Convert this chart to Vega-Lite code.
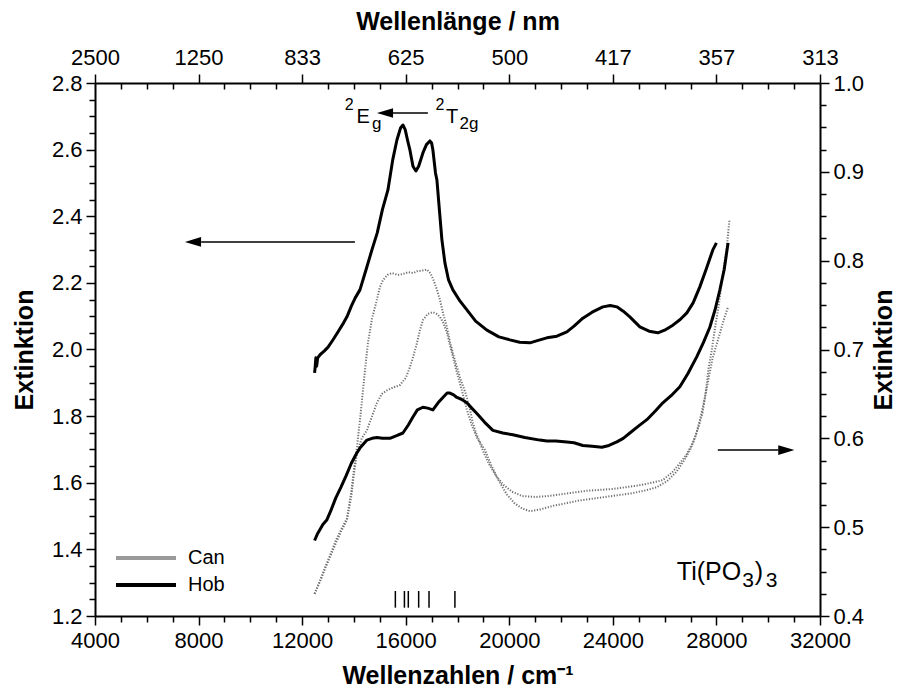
{
  "$schema": "https://vega.github.io/schema/vega-lite/v6.json",
  "width": 725,
  "height": 533,
  "autosize": {"type": "none"},
  "padding": {"left": 95, "top": 83, "right": 84, "bottom": 84},
  "background": "white",
  "config": {
    "view": {"stroke": null},
    "font": "Liberation Sans",
    "axis": {
      "domainColor": "black", "domainWidth": 2, "tickColor": "black", "tickWidth": 1.5,
      "labelColor": "black", "titleColor": "black", "labelFont": "Liberation Sans", "titleFont": "Liberation Sans",
      "labelFontSize": 22, "titleFontSize": 25, "titleFontWeight": "bold", "grid": false,
      "labelOverlap": false, "labelFlush": false
    },
    "legend": {"labelFont": "Liberation Sans", "labelFontSize": 20, "labelColor": "black"}
  },
  "datasets": {
    "hobTop": [
      {"wn":12480,"e":1.93},{"wn":12500,"e":1.945},{"wn":12530,"e":1.975},{"wn":12560,"e":1.95},{"wn":12600,"e":1.975},
      {"wn":12700,"e":1.985},{"wn":12850,"e":1.995},{"wn":13000,"e":2.007},{"wn":13200,"e":2.03},{"wn":13400,"e":2.055},
      {"wn":13600,"e":2.08},{"wn":13730,"e":2.098},{"wn":13900,"e":2.13},{"wn":14050,"e":2.155},{"wn":14232,"e":2.179},
      {"wn":14450,"e":2.235},{"wn":14695,"e":2.299},{"wn":14900,"e":2.35},{"wn":15100,"e":2.42},{"wn":15313,"e":2.479},
      {"wn":15500,"e":2.57},{"wn":15660,"e":2.629},{"wn":15800,"e":2.665},{"wn":15892,"e":2.674},{"wn":15980,"e":2.66},
      {"wn":16080,"e":2.625},{"wn":16162,"e":2.599},{"wn":16280,"e":2.55},{"wn":16394,"e":2.536},{"wn":16500,"e":2.55},
      {"wn":16664,"e":2.59},{"wn":16800,"e":2.615},{"wn":16934,"e":2.626},{"wn":17000,"e":2.62},{"wn":17050,"e":2.599},
      {"wn":17150,"e":2.53},{"wn":17205,"e":2.509},{"wn":17300,"e":2.42},{"wn":17397,"e":2.33},{"wn":17514,"e":2.26},
      {"wn":17650,"e":2.21},{"wn":17822,"e":2.179},{"wn":18100,"e":2.145},{"wn":18363,"e":2.119},{"wn":18700,"e":2.085},
      {"wn":19135,"e":2.058},{"wn":19600,"e":2.038},{"wn":20023,"e":2.029},{"wn":20400,"e":2.022},{"wn":20795,"e":2.02},
      {"wn":21181,"e":2.029},{"wn":21452,"e":2.035},{"wn":21838,"e":2.04},{"wn":22224,"e":2.053},{"wn":22500,"e":2.07},
      {"wn":22842,"e":2.094},{"wn":23200,"e":2.112},{"wn":23614,"e":2.128},{"wn":23900,"e":2.132},{"wn":24154,"e":2.128},
      {"wn":24400,"e":2.115},{"wn":24656,"e":2.098},{"wn":25042,"e":2.068},{"wn":25400,"e":2.055},{"wn":25737,"e":2.05},
      {"wn":26000,"e":2.058},{"wn":26317,"e":2.073},{"wn":26600,"e":2.09},{"wn":26857,"e":2.11},{"wn":27100,"e":2.14},
      {"wn":27359,"e":2.188},{"wn":27600,"e":2.24},{"wn":27861,"e":2.299},{"wn":28000,"e":2.32}
    ],
    "hobLow": [
      {"wn":12480,"e":0.485},{"wn":12600,"e":0.493},{"wn":12800,"e":0.503},{"wn":12950,"e":0.508},{"wn":13100,"e":0.518},
      {"wn":13300,"e":0.533},{"wn":13500,"e":0.545},{"wn":13700,"e":0.558},{"wn":13900,"e":0.572},{"wn":14100,"e":0.583},
      {"wn":14232,"e":0.589},{"wn":14502,"e":0.598},{"wn":14700,"e":0.6},{"wn":14888,"e":0.601},{"wn":15100,"e":0.6},
      {"wn":15390,"e":0.6},{"wn":15650,"e":0.603},{"wn":15892,"e":0.606},{"wn":16100,"e":0.615},{"wn":16278,"e":0.624},
      {"wn":16450,"e":0.632},{"wn":16664,"e":0.635},{"wn":16850,"e":0.634},{"wn":17050,"e":0.632},{"wn":17250,"e":0.64},
      {"wn":17436,"e":0.646},{"wn":17600,"e":0.651},{"wn":17707,"e":0.651},{"wn":17850,"e":0.649},{"wn":17977,"e":0.646},
      {"wn":18150,"e":0.644},{"wn":18363,"e":0.64},{"wn":18550,"e":0.634},{"wn":18749,"e":0.628},{"wn":19050,"e":0.618},
      {"wn":19367,"e":0.609},{"wn":19750,"e":0.606},{"wn":20139,"e":0.604},{"wn":20600,"e":0.601},{"wn":21181,"e":0.598},
      {"wn":21452,"e":0.597},{"wn":21800,"e":0.597},{"wn":22224,"e":0.596},{"wn":22500,"e":0.595},{"wn":22842,"e":0.592},
      {"wn":23200,"e":0.591},{"wn":23575,"e":0.59},{"wn":23850,"e":0.592},{"wn":24154,"e":0.596},{"wn":24400,"e":0.6},
      {"wn":24656,"e":0.606},{"wn":25000,"e":0.614},{"wn":25313,"e":0.621},{"wn":25650,"e":0.631},{"wn":25930,"e":0.64},
      {"wn":26250,"e":0.648},{"wn":26587,"e":0.658},{"wn":26900,"e":0.673},{"wn":27243,"e":0.692},{"wn":27500,"e":0.708},
      {"wn":27745,"e":0.725},{"wn":27950,"e":0.745},{"wn":28131,"e":0.767},{"wn":28300,"e":0.79},{"wn":28450,"e":0.82}
    ],
    "can": [
      {"c":"A","wn":12480,"e":0.425},{"c":"A","wn":12700,"e":0.44},{"c":"A","wn":12900,"e":0.455},{"c":"A","wn":13100,"e":0.47},
      {"c":"A","wn":13300,"e":0.485},{"c":"A","wn":13500,"e":0.497},{"c":"A","wn":13730,"e":0.51},{"c":"A","wn":13900,"e":0.54},
      {"c":"A","wn":14000,"e":0.565},{"c":"A","wn":14116,"e":0.59},{"c":"A","wn":14250,"e":0.625},{"c":"A","wn":14348,"e":0.654},
      {"c":"A","wn":14450,"e":0.683},{"c":"A","wn":14541,"e":0.707},{"c":"A","wn":14700,"e":0.735},{"c":"A","wn":14888,"e":0.756},
      {"c":"A","wn":15000,"e":0.77},{"c":"A","wn":15120,"e":0.778},{"c":"A","wn":15300,"e":0.784},{"c":"A","wn":15467,"e":0.786},
      {"c":"A","wn":15700,"e":0.784},{"c":"A","wn":15892,"e":0.785},{"c":"A","wn":16100,"e":0.787},{"c":"A","wn":16300,"e":0.786},
      {"c":"A","wn":16432,"e":0.788},{"c":"A","wn":16650,"e":0.789},{"c":"A","wn":16819,"e":0.79},{"c":"A","wn":16950,"e":0.786},
      {"c":"A","wn":17050,"e":0.78},{"c":"A","wn":17200,"e":0.768},{"c":"A","wn":17320,"e":0.756},{"c":"A","wn":17450,"e":0.74},
      {"c":"A","wn":17591,"e":0.725},{"c":"A","wn":17700,"e":0.71},{"c":"A","wn":17822,"e":0.696},{"c":"A","wn":17950,"e":0.683},
      {"c":"A","wn":18093,"e":0.669},{"c":"A","wn":18250,"e":0.656},{"c":"A","wn":18363,"e":0.646},{"c":"A","wn":18500,"e":0.63},
      {"c":"A","wn":18595,"e":0.617},{"c":"A","wn":18730,"e":0.605},{"c":"A","wn":18865,"e":0.595},{"c":"A","wn":19000,"e":0.585},
      {"c":"A","wn":19200,"e":0.572},{"c":"A","wn":19500,"e":0.557},{"c":"A","wn":19800,"e":0.547},{"c":"A","wn":20100,"e":0.54},
      {"c":"A","wn":20500,"e":0.535},{"c":"A","wn":21000,"e":0.534},{"c":"A","wn":21500,"e":0.535},{"c":"A","wn":22000,"e":0.537},
      {"c":"A","wn":22500,"e":0.539},{"c":"A","wn":23000,"e":0.541},{"c":"A","wn":23500,"e":0.542},{"c":"A","wn":24000,"e":0.543},
      {"c":"A","wn":24500,"e":0.545},{"c":"A","wn":25000,"e":0.547},{"c":"A","wn":25500,"e":0.55},{"c":"A","wn":25930,"e":0.553},
      {"c":"A","wn":26300,"e":0.562},{"c":"A","wn":26587,"e":0.572},{"c":"A","wn":26850,"e":0.582},{"c":"A","wn":27089,"e":0.595},
      {"c":"A","wn":27300,"e":0.612},{"c":"A","wn":27475,"e":0.63},{"c":"A","wn":27600,"e":0.655},{"c":"A","wn":27700,"e":0.68},
      {"c":"A","wn":27822,"e":0.7},{"c":"A","wn":27950,"e":0.725},{"c":"A","wn":28100,"e":0.752},{"c":"A","wn":28250,"e":0.785},
      {"c":"A","wn":28400,"e":0.815},{"c":"A","wn":28500,"e":0.845},
      {"c":"B","wn":12480,"e":0.425},{"c":"B","wn":12700,"e":0.44},{"c":"B","wn":12900,"e":0.455},{"c":"B","wn":13100,"e":0.468},
      {"c":"B","wn":13300,"e":0.482},{"c":"B","wn":13500,"e":0.495},{"c":"B","wn":13730,"e":0.508},{"c":"B","wn":13900,"e":0.535},
      {"c":"B","wn":14000,"e":0.56},{"c":"B","wn":14116,"e":0.583},{"c":"B","wn":14300,"e":0.6},{"c":"B","wn":14502,"e":0.609},
      {"c":"B","wn":14700,"e":0.625},{"c":"B","wn":14888,"e":0.64},{"c":"B","wn":15080,"e":0.65},{"c":"B","wn":15274,"e":0.654},
      {"c":"B","wn":15500,"e":0.657},{"c":"B","wn":15776,"e":0.66},{"c":"B","wn":16000,"e":0.668},{"c":"B","wn":16162,"e":0.68},
      {"c":"B","wn":16300,"e":0.693},{"c":"B","wn":16432,"e":0.707},{"c":"B","wn":16550,"e":0.722},{"c":"B","wn":16664,"e":0.733},
      {"c":"B","wn":16850,"e":0.74},{"c":"B","wn":17050,"e":0.742},{"c":"B","wn":17200,"e":0.74},{"c":"B","wn":17320,"e":0.737},
      {"c":"B","wn":17450,"e":0.73},{"c":"B","wn":17591,"e":0.719},{"c":"B","wn":17700,"e":0.706},{"c":"B","wn":17822,"e":0.692},
      {"c":"B","wn":17950,"e":0.677},{"c":"B","wn":18093,"e":0.662},{"c":"B","wn":18230,"e":0.647},{"c":"B","wn":18363,"e":0.632},
      {"c":"B","wn":18550,"e":0.615},{"c":"B","wn":18749,"e":0.601},{"c":"B","wn":18900,"e":0.594},{"c":"B","wn":19058,"e":0.587},
      {"c":"B","wn":19300,"e":0.57},{"c":"B","wn":19600,"e":0.552},{"c":"B","wn":19900,"e":0.537},{"c":"B","wn":20200,"e":0.527},
      {"c":"B","wn":20500,"e":0.521},{"c":"B","wn":20800,"e":0.518},{"c":"B","wn":21200,"e":0.52},{"c":"B","wn":21700,"e":0.524},
      {"c":"B","wn":22200,"e":0.527},{"c":"B","wn":22700,"e":0.53},{"c":"B","wn":23200,"e":0.532},{"c":"B","wn":23700,"e":0.534},
      {"c":"B","wn":24200,"e":0.536},{"c":"B","wn":24700,"e":0.538},{"c":"B","wn":25200,"e":0.541},{"c":"B","wn":25700,"e":0.545},
      {"c":"B","wn":26100,"e":0.552},{"c":"B","wn":26450,"e":0.562},{"c":"B","wn":26750,"e":0.575},{"c":"B","wn":27000,"e":0.588},
      {"c":"B","wn":27200,"e":0.603},{"c":"B","wn":27400,"e":0.625},{"c":"B","wn":27550,"e":0.645},{"c":"B","wn":27700,"e":0.668},
      {"c":"B","wn":27850,"e":0.69},{"c":"B","wn":28000,"e":0.705},{"c":"B","wn":28150,"e":0.72},{"c":"B","wn":28300,"e":0.735},
      {"c":"B","wn":28450,"e":0.748}
    ],
    "lines": [
      {"x":15600,"x2":15600,"y":1.225,"y2":1.275},
      {"x":15950,"x2":15950,"y":1.225,"y2":1.275},
      {"x":16100,"x2":16100,"y":1.225,"y2":1.275},
      {"x":16500,"x2":16500,"y":1.225,"y2":1.275},
      {"x":16900,"x2":16900,"y":1.225,"y2":1.275},
      {"x":17900,"x2":17900,"y":1.225,"y2":1.275},
      {"x":15470,"x2":16857,"y":2.71,"y2":2.71},
      {"x":8100,"x2":14039,"y":2.323,"y2":2.323},
      {"x":28054,"x2":30400,"y":1.698,"y2":1.698}
    ],
    "heads": [
      {"dir":"left","x":7784,"y":2.323},
      {"dir":"left","x":15200,"y":2.71},
      {"dir":"right","x":30700,"y":1.698}
    ],
    "labels": [
      {"t":"2","x":13650,"y":2.718,"s":"sup"},
      {"t":"E","x":14100,"y":2.68,"s":"main"},
      {"t":"g","x":14700,"y":2.663,"s":"sub"},
      {"t":"2","x":17150,"y":2.718,"s":"sup"},
      {"t":"T","x":17560,"y":2.68,"s":"main"},
      {"t":"2g","x":18080,"y":2.663,"s":"sub"},
      {"t":"Ti(PO","x":26471,"y":1.308,"s":"big"},
      {"t":"3","x":29000,"y":1.287,"s":"bigsub"},
      {"t":")","x":29480,"y":1.308,"s":"big"},
      {"t":"3","x":29900,"y":1.287,"s":"bigsub"}
    ]
  },
  "layer": [
    {
      "data": {"name": "hobTop"},
      "mark": {"type": "line", "strokeWidth": 3, "strokeJoin": "round"},
      "encoding": {
        "x": {"field": "wn", "type": "quantitative", "scale": {"domain": [4000, 32000]},
          "axis": {"orient": "bottom", "title": "Wellenzahlen / cm⁻¹",
            "values": [4000,5000,6000,7000,8000,9000,10000,11000,12000,13000,14000,15000,16000,17000,18000,19000,20000,21000,22000,23000,24000,25000,26000,27000,28000,29000,30000,31000,32000],
            "labelExpr": "datum.value % 4000 === 0 ? format(datum.value, 'd') : ''",
            "tickSize": {"condition": {"test": "datum.value % 4000 === 0", "value": 9}, "value": 6},
            "labelPadding": 5, "titlePadding": 12}},
        "y": {"field": "e", "type": "quantitative", "scale": {"domain": [1.2, 2.8]},
          "axis": {"orient": "left", "title": "Extinktion",
            "values": [1.2,1.25,1.3,1.35,1.4,1.45,1.5,1.55,1.6,1.65,1.7,1.75,1.8,1.85,1.9,1.95,2.0,2.05,2.1,2.15,2.2,2.25,2.3,2.35,2.4,2.45,2.5,2.55,2.6,2.65,2.7,2.75,2.8],
            "labelExpr": "abs(datum.value*5 - round(datum.value*5)) < 0.01 ? format(datum.value, '.1f') : ''",
            "tickSize": {"condition": {"test": "abs(datum.value*5 - round(datum.value*5)) < 0.01", "value": 9}, "value": 6},
            "labelPadding": 4, "titlePadding": 14}},
        "color": {"datum": "Hob", "type": "nominal",
          "scale": {"domain": ["Can", "Hob"], "range": ["#9a9a9a", "#000000"]},
          "legend": {"title": null, "orient": "none", "legendX": 39, "legendY": 463, "symbolType": "M-3,0L3,0",
            "symbolStrokeWidth": 4, "symbolSize": 400, "labelOffset": 30, "rowPadding": 5, "symbolDash": [1, 0]}}
      }
    },
    {
      "data": {"name": "can"},
      "mark": {"type": "line", "strokeWidth": 2, "strokeDash": [1.2, 1.6], "color": "#707070"},
      "encoding": {
        "x": {"field": "wn", "type": "quantitative", "scale": {"domain": [4000, 32000]},
          "axis": {"orient": "top", "title": "Wellenlänge / nm",
            "values": [4000,5000,6000,7000,8000,9000,10000,11000,12000,13000,14000,15000,16000,17000,18000,19000,20000,21000,22000,23000,24000,25000,26000,27000,28000,29000,30000,31000,32000],
            "labelExpr": "datum.value % 4000 === 0 ? format(1e7 / datum.value, '.0f') : ''",
            "tickSize": {"condition": {"test": "datum.value % 4000 === 0", "value": 9}, "value": -6},
            "labelPadding": 5, "titlePadding": 12}},
        "y": {"field": "e", "type": "quantitative", "scale": {"domain": [0.4, 1.0]},
          "axis": {"orient": "right", "title": "Extinktion", "titleAngle": 270, "titleBaseline": "top",
            "values": [0.4,0.425,0.45,0.475,0.5,0.525,0.55,0.575,0.6,0.625,0.65,0.675,0.7,0.725,0.75,0.775,0.8,0.825,0.85,0.875,0.9,0.925,0.95,0.975,1.0],
            "labelExpr": "abs(datum.value*10 - round(datum.value*10)) < 0.01 ? format(datum.value, '.1f') : ''",
            "tickSize": {"condition": {"test": "abs(datum.value*10 - round(datum.value*10)) < 0.01", "value": 9}, "value": 6},
            "labelPadding": 4, "titlePadding": 8}},
        "detail": {"field": "c", "type": "nominal"}
      }
    },
    {
      "data": {"name": "hobLow"},
      "mark": {"type": "line", "strokeWidth": 3, "strokeJoin": "round"},
      "encoding": {
        "x": {"field": "wn", "type": "quantitative", "scale": {"domain": [4000, 32000]}, "axis": null},
        "y": {"field": "e", "type": "quantitative", "scale": {"domain": [0.4, 1.0]}, "axis": null},
        "color": {"datum": "Hob", "type": "nominal"}
      }
    },
    {
      "data": {"name": "lines"},
      "mark": {"type": "rule", "color": "black", "strokeWidth": 1.5},
      "encoding": {
        "x": {"field": "x", "type": "quantitative", "scale": {"domain": [4000, 32000]}, "axis": null},
        "x2": {"field": "x2"},
        "y": {"field": "y", "type": "quantitative", "scale": {"domain": [1.2, 2.8]}, "axis": null},
        "y2": {"field": "y2"}
      }
    },
    {
      "data": {"name": "heads"},
      "mark": {"type": "point", "filled": true, "color": "black", "opacity": 1, "size": 260},
      "encoding": {
        "x": {"field": "x", "type": "quantitative", "scale": {"domain": [4000, 32000]}, "axis": null},
        "y": {"field": "y", "type": "quantitative", "scale": {"domain": [1.2, 2.8]}, "axis": null},
        "shape": {"field": "dir", "type": "nominal", "legend": null,
          "scale": {"domain": ["left", "right"], "range": ["M-1,0L1,-0.6L1,0.6Z", "M1,0L-1,-0.6L-1,0.6Z"]}}
      }
    },
    {
      "data": {"name": "labels"},
      "transform": [{"filter": "datum.s === 'sup'"}],
      "mark": {"type": "text", "align": "left", "baseline": "alphabetic", "color": "black", "fontSize": 16},
      "encoding": {
        "x": {"field": "x", "type": "quantitative", "scale": {"domain": [4000, 32000]}, "axis": null},
        "y": {"field": "y", "type": "quantitative", "scale": {"domain": [1.2, 2.8]}, "axis": null},
        "text": {"field": "t"}
      }
    },
    {
      "data": {"name": "labels"},
      "transform": [{"filter": "datum.s === 'main'"}],
      "mark": {"type": "text", "align": "left", "baseline": "alphabetic", "color": "black", "fontSize": 20},
      "encoding": {
        "x": {"field": "x", "type": "quantitative", "scale": {"domain": [4000, 32000]}, "axis": null},
        "y": {"field": "y", "type": "quantitative", "scale": {"domain": [1.2, 2.8]}, "axis": null},
        "text": {"field": "t"}
      }
    },
    {
      "data": {"name": "labels"},
      "transform": [{"filter": "datum.s === 'sub'"}],
      "mark": {"type": "text", "align": "left", "baseline": "alphabetic", "color": "black", "fontSize": 17},
      "encoding": {
        "x": {"field": "x", "type": "quantitative", "scale": {"domain": [4000, 32000]}, "axis": null},
        "y": {"field": "y", "type": "quantitative", "scale": {"domain": [1.2, 2.8]}, "axis": null},
        "text": {"field": "t"}
      }
    },
    {
      "data": {"name": "labels"},
      "transform": [{"filter": "datum.s === 'big'"}],
      "mark": {"type": "text", "align": "left", "baseline": "alphabetic", "color": "black", "fontSize": 25},
      "encoding": {
        "x": {"field": "x", "type": "quantitative", "scale": {"domain": [4000, 32000]}, "axis": null},
        "y": {"field": "y", "type": "quantitative", "scale": {"domain": [1.2, 2.8]}, "axis": null},
        "text": {"field": "t"}
      }
    },
    {
      "data": {"name": "labels"},
      "transform": [{"filter": "datum.s === 'bigsub'"}],
      "mark": {"type": "text", "align": "left", "baseline": "alphabetic", "color": "black", "fontSize": 21},
      "encoding": {
        "x": {"field": "x", "type": "quantitative", "scale": {"domain": [4000, 32000]}, "axis": null},
        "y": {"field": "y", "type": "quantitative", "scale": {"domain": [1.2, 2.8]}, "axis": null},
        "text": {"field": "t"}
      }
    }
  ],
  "resolve": {"scale": {"y": "independent"}}
}
